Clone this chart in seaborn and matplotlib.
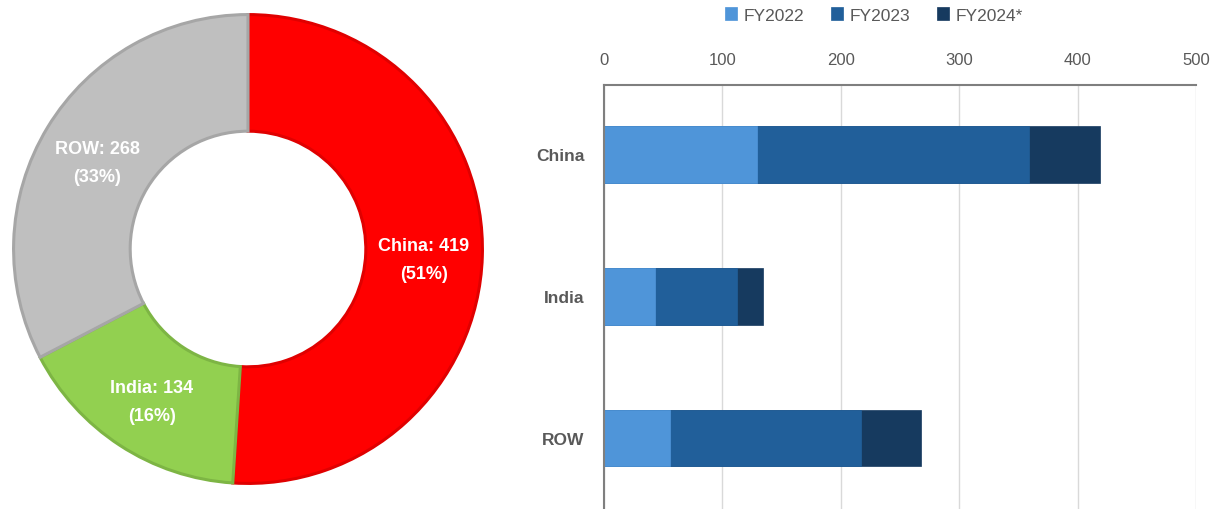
import matplotlib
matplotlib.use("Agg")
import matplotlib.pyplot as plt
import seaborn as sns
import numpy as np
import pandas as pd

# ---- data ----
regions = ["China", "India", "ROW"]
totals = [419, 134, 268]
fy2022 = [129, 43, 56]
fy2023 = [230, 69, 161]
fy2024 = [60, 22, 51]
series_names = ["FY2022", "FY2023", "FY2024*"]
x_ticks = [0, 100, 200, 300, 400, 500]

donut_colors = ["#FF0000", "#92D050", "#BFBFBF"]
donut_edges = ["#E00000", "#7DB544", "#A6A6A6"]
bar_colors = ["#4F95D9", "#215F9A", "#163A5F"]

sns.set_theme(style="white")
plt.rcParams['font.family'] = ['Liberation Sans', 'DejaVu Sans']

W, H = 1214, 510
fig = plt.figure(figsize=(W / 100, H / 100), dpi=100)

# ---- donut ----
cx, cy, R = 248, 250, 238
ax1 = fig.add_axes([(cx - R) / W, (H - cy - R) / H, 2 * R / W, 2 * R / H])
wedges, _ = ax1.pie(totals, colors=donut_colors, startangle=90, counterclock=False,
                    radius=0.985, wedgeprops=dict(width=0.49, linewidth=2.2))
for w, ec in zip(wedges, donut_edges):
    w.set_edgecolor(ec)
ax1.set_xlim(-1, 1)
ax1.set_ylim(-1, 1)
ax1.set_aspect("equal")
ax1.axis("off")
grand = sum(totals)
rmid = 0.985 - 0.49 / 2
for w, name, val in zip(wedges, regions, totals):
    ang = np.deg2rad((w.theta1 + w.theta2) / 2)
    ax1.text(rmid * np.cos(ang), rmid * np.sin(ang) - 0.02,
             f"{name}: {val}\n({round(val / grand * 100)}%)",
             ha="center", va="center", color="white", fontsize=13,
             fontweight="bold", linespacing=1.85)

# ---- stacked bars ----
ax2 = fig.add_axes([604 / W, 0.0, (1196 - 604) / W, 1 - 86 / H])
df = pd.DataFrame({"region": regions, "FY2022": fy2022, "FY2023": fy2023, "FY2024*": fy2024})
cum = df[series_names].cumsum(axis=1)
for name, col in reversed(list(zip(series_names, bar_colors))):
    sns.barplot(x=cum[name], y=df["region"], orient="h", color=col, width=0.4,
                ax=ax2, label=name, saturation=1, edgecolor=col, linewidth=0.5)
ax2.set_xlim(0, 500)
ax2.set_ylim(2.5, -0.49)
ax2.set_xticks(x_ticks)
ax2.xaxis.tick_top()
ax2.tick_params(axis="x", length=0, pad=13, labelsize=12, labelcolor="#595959")
ax2.tick_params(axis="y", length=0, pad=14, labelsize=12.5, labelcolor="#595959")
for lab in ax2.get_yticklabels():
    lab.set_fontweight("bold")
ax2.set_xlabel("")
ax2.set_ylabel("")
ax2.grid(axis="x", color="#D9D9D9", linewidth=1)
ax2.set_axisbelow(True)
for s in ["right", "bottom"]:
    ax2.spines[s].set_visible(False)
ax2.spines["top"].set_color("#7F7F7F")
ax2.spines["top"].set_linewidth(1.5)
ax2.spines["left"].set_color("#7F7F7F")
ax2.spines["left"].set_linewidth(1.5)

handles, labels = ax2.get_legend_handles_labels()
order = [labels.index(n) for n in series_names]
if ax2.get_legend():
    ax2.get_legend().remove()
fig.legend([handles[i] for i in order], [labels[i] for i in order],
           loc="center", bbox_to_anchor=(874 / W, 1 - 16 / H), ncol=3, frameon=False,
           handlelength=0.7, handleheight=0.7, handletextpad=0.4, columnspacing=1.5,
           fontsize=12.5, labelcolor="#595959")

fig.savefig("out.png", dpi=100)
